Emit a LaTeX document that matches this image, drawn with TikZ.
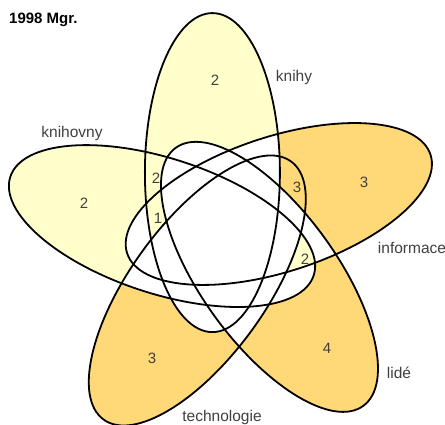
\documentclass[tikz,border=0pt]{standalone}
\usepackage{fontspec}
\setmainfont{Liberation Sans}
\definecolor{ylw}{HTML}{FFFFCC}
\definecolor{org}{HTML}{FFD878}
\definecolor{txt}{HTML}{404040}
\begin{document}
\begin{tikzpicture}[
  outline/.style={draw=black, line width=1.8pt},
  lbl/.style={text=txt, font=\fontsize{15.5}{18}\selectfont, inner sep=0pt},
  num/.style={text=txt, font=\fontsize{15}{17}\selectfont, inner sep=0pt},
  ttl/.style={text=black, font=\fontsize{15}{18}\selectfont\bfseries, inner sep=0pt, anchor=west},
]
% ellipse geometry (centre, rotation)
\def\eK{(-11.6pt,61.4pt) ellipse [x radius=67.5pt, y radius=159.5pt, rotate=0]}
\def\eI{(54.81pt,30.01pt) ellipse [x radius=67.5pt, y radius=159.5pt, rotate=-72]}
\def\eL{(45.48pt,-42.86pt) ellipse [x radius=67.5pt, y radius=159.5pt, rotate=-144]}
\def\eT{(-26.71pt,-56.49pt) ellipse [x radius=67.5pt, y radius=159.5pt, rotate=144]}
\def\eH{(-61.98pt,7.94pt) ellipse [x radius=67.5pt, y radius=159.5pt, rotate=72]}
\def\big{(-300pt,-300pt) rectangle (300pt,300pt)}
\def\rev{(-300pt,-300pt) -- (-300pt,300pt) -- (300pt,300pt) -- (300pt,-300pt) -- cycle}
\useasboundingbox (-224pt,-191pt) rectangle (221pt,234pt);
\fill[white] (-224pt,-191pt) rectangle (221pt,234pt);
% single-set fills
\fill[ylw] \eK;
\fill[ylw] \eH;
\fill[org] \eI;
\fill[org] \eL;
\fill[org] \eT;
% white out every pairwise overlap
\foreach \a/\b in {\eK/\eI,\eK/\eL,\eK/\eT,\eK/\eH,\eI/\eL,\eI/\eT,\eI/\eH,\eL/\eT,\eL/\eH,\eT/\eH}{
  \begin{scope}\clip \a; \fill[white] \b; \end{scope}
}
% region knihy & knihovny only (2)
\begin{scope}
  \clip \eK; \clip \eH;
  \clip \rev \eI; \clip \rev \eL; \clip \rev \eT;
  \fill[ylw] \big;
\end{scope}
% region knihy & informace & knihovny (1)
\begin{scope}
  \clip \eK; \clip \eI; \clip \eH;
  \clip \rev \eL; \clip \rev \eT;
  \fill[ylw] \big;
\end{scope}
% region informace & technologie (3)
\begin{scope}
  \clip \eI; \clip \eT;
  \clip \rev \eK; \clip \rev \eL; \clip \rev \eH;
  \fill[org] \big;
\end{scope}
% region informace & lide & knihovny (2)
\begin{scope}
  \clip \eI; \clip \eL; \clip \eH;
  \clip \rev \eK; \clip \rev \eT;
  \fill[ylw] \big;
\end{scope}
% outlines
\draw[outline] \eK;
\draw[outline] \eI;
\draw[outline] \eL;
\draw[outline] \eT;
\draw[outline] \eH;
% texts
\node[ttl] (title) at (-215pt,214pt) {1998 Mgr.};
\node[lbl] (knihy) at (70pt,157pt) {knihy};
\node[lbl] (knihovny) at (-152pt,101pt) {knihovny};
\node[lbl] (informace) at (188pt,-14pt) {informace};
\node[lbl] (lide) at (175pt,-139pt) {lidé};
\node[lbl] (technologie) at (-2pt,-183pt) {technologie};
\node[num] (nK) at (-9pt,154pt) {2};
\node[num] (nH) at (-140pt,31pt) {2};
\node[num] (nI) at (140pt,52pt) {3};
\node[num] (nL) at (103pt,-114pt) {4};
\node[num] (nT) at (-72pt,-124pt) {3};
\node[num] (nKH) at (-68pt,56pt) {2};
\node[num] (nKIH) at (-66pt,16pt) {1};
\node[num] (nIT) at (73pt,47pt) {3};
\node[num] (nILH) at (81pt,-25pt) {2};
\end{tikzpicture}
\end{document}
